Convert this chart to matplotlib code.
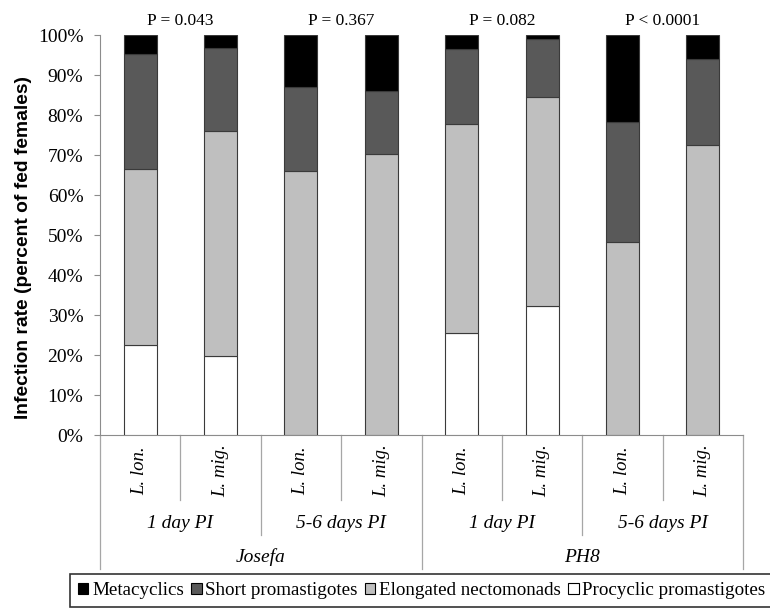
import matplotlib
matplotlib.use("Agg")
import matplotlib.pyplot as plt
from matplotlib.patches import Patch

strains = ["Josefa", "PH8"]
times = ["1 day PI", "5-6 days PI"]
species = ["L. lon.", "L. mig."]
p_labels = ["P = 0.043", "P = 0.367", "P = 0.082", "P < 0.0001"]

procyclic = [22.5, 19.7, 0.0, 0.0, 25.4, 32.2, 0.0, 0.0]
elongated = [44.0, 56.4, 66.1, 70.3, 52.4, 52.4, 48.3, 72.5]
short = [28.7, 20.6, 20.8, 15.6, 18.6, 14.3, 29.9, 21.4]
metacyclic = [4.8, 3.3, 13.1, 14.1, 3.6, 1.1, 21.8, 6.1]

series_names = ["Metacyclics", "Short promastigotes", "Elongated nectomonads", "Procyclic promastigotes"]
colors = {"Metacyclics": "#000000", "Short promastigotes": "#595959",
          "Elongated nectomonads": "#bfbfbf", "Procyclic promastigotes": "#ffffff"}

serif = "Liberation Serif"
W, H = 770, 609
fig = plt.figure(figsize=(W / 100, H / 100), dpi=100)
ax = fig.add_axes([100 / W, 1 - 435 / H, 643 / W, 400 / H])

n = len(procyclic)
x = list(range(n))
bw = 0.41
stack = [("Procyclic promastigotes", procyclic), ("Elongated nectomonads", elongated),
         ("Short promastigotes", short), ("Metacyclics", metacyclic)]
bottom = [0.0] * n
for name, vals in stack:
    ax.bar(x, vals, bw, bottom=bottom, color=colors[name], edgecolor="#3a3a3a", linewidth=0.8, zorder=3)
    bottom = [b + v for b, v in zip(bottom, vals)]

ax.set_xlim(-0.5, n - 0.5)
ax.set_ylim(0, 100)
ax.set_yticks(range(0, 101, 10))
ax.set_yticklabels([f"{v}%" for v in range(0, 101, 10)], fontfamily=serif, fontsize=14)
ax.tick_params(axis="y", length=4, width=0.8, color="#8c8c8c", pad=8)
ax.set_xticks([])
for s in ["top", "right"]:
    ax.spines[s].set_visible(False)
for s in ["left", "bottom"]:
    ax.spines[s].set_color("#8c8c8c")
    ax.spines[s].set_linewidth(0.8)

# P-values
for i, lab in enumerate(p_labels):
    ax.text(2 * i + 0.5, 103.6, lab, ha="center", va="center", fontfamily=serif, fontsize=12.5, clip_on=False)

# multi-level category axis
tr = ax.get_xaxis_transform()
y1, y2, y3 = -0.1625, -0.25, -0.335
lc = "#a6a6a6"
for k in range(n + 1):
    xb = k - 0.5
    if k % 4 == 0:
        yb = y3
    elif k % 2 == 0:
        yb = y2
    else:
        yb = y1
    ax.plot([xb, xb], [0, yb], transform=tr, color=lc, lw=0.9, clip_on=False)

for i in range(n):
    ax.text(i, -0.09, species[i % 2], transform=tr, rotation=90, ha="center", va="center",
            fontfamily=serif, fontstyle="italic", fontsize=13.5)
for j in range(4):
    ax.text(2 * j + 0.5, -0.222, times[j % 2], transform=tr, ha="center", va="center",
            fontfamily=serif, fontstyle="italic", fontsize=14)
for j in range(2):
    ax.text(4 * j + 1.5, -0.305, strains[j], transform=tr, ha="center", va="center",
            fontfamily=serif, fontstyle="italic", fontsize=14)

fig.text(24 / W, 1 - 248 / H, "Infection rate (percent of fed females)", rotation=90,
         ha="center", va="center", fontfamily="Liberation Sans", fontweight="bold", fontsize=13.9)

handles = [Patch(facecolor=colors[nm], edgecolor="#000000", linewidth=0.8) for nm in series_names]
leg = fig.legend(handles, series_names, loc="upper left", bbox_to_anchor=(70 / W, 1 - 574 / H), ncol=4,
                 prop={"family": serif, "size": 13.7}, frameon=True, fancybox=False, edgecolor="#000000",
                 handlelength=0.55, handleheight=0.55, handletextpad=0.2, columnspacing=0.37,
                 borderpad=0.42, borderaxespad=0)
leg.get_frame().set_linewidth(1.2)

fig.savefig("out.png", dpi=100, facecolor="white")
